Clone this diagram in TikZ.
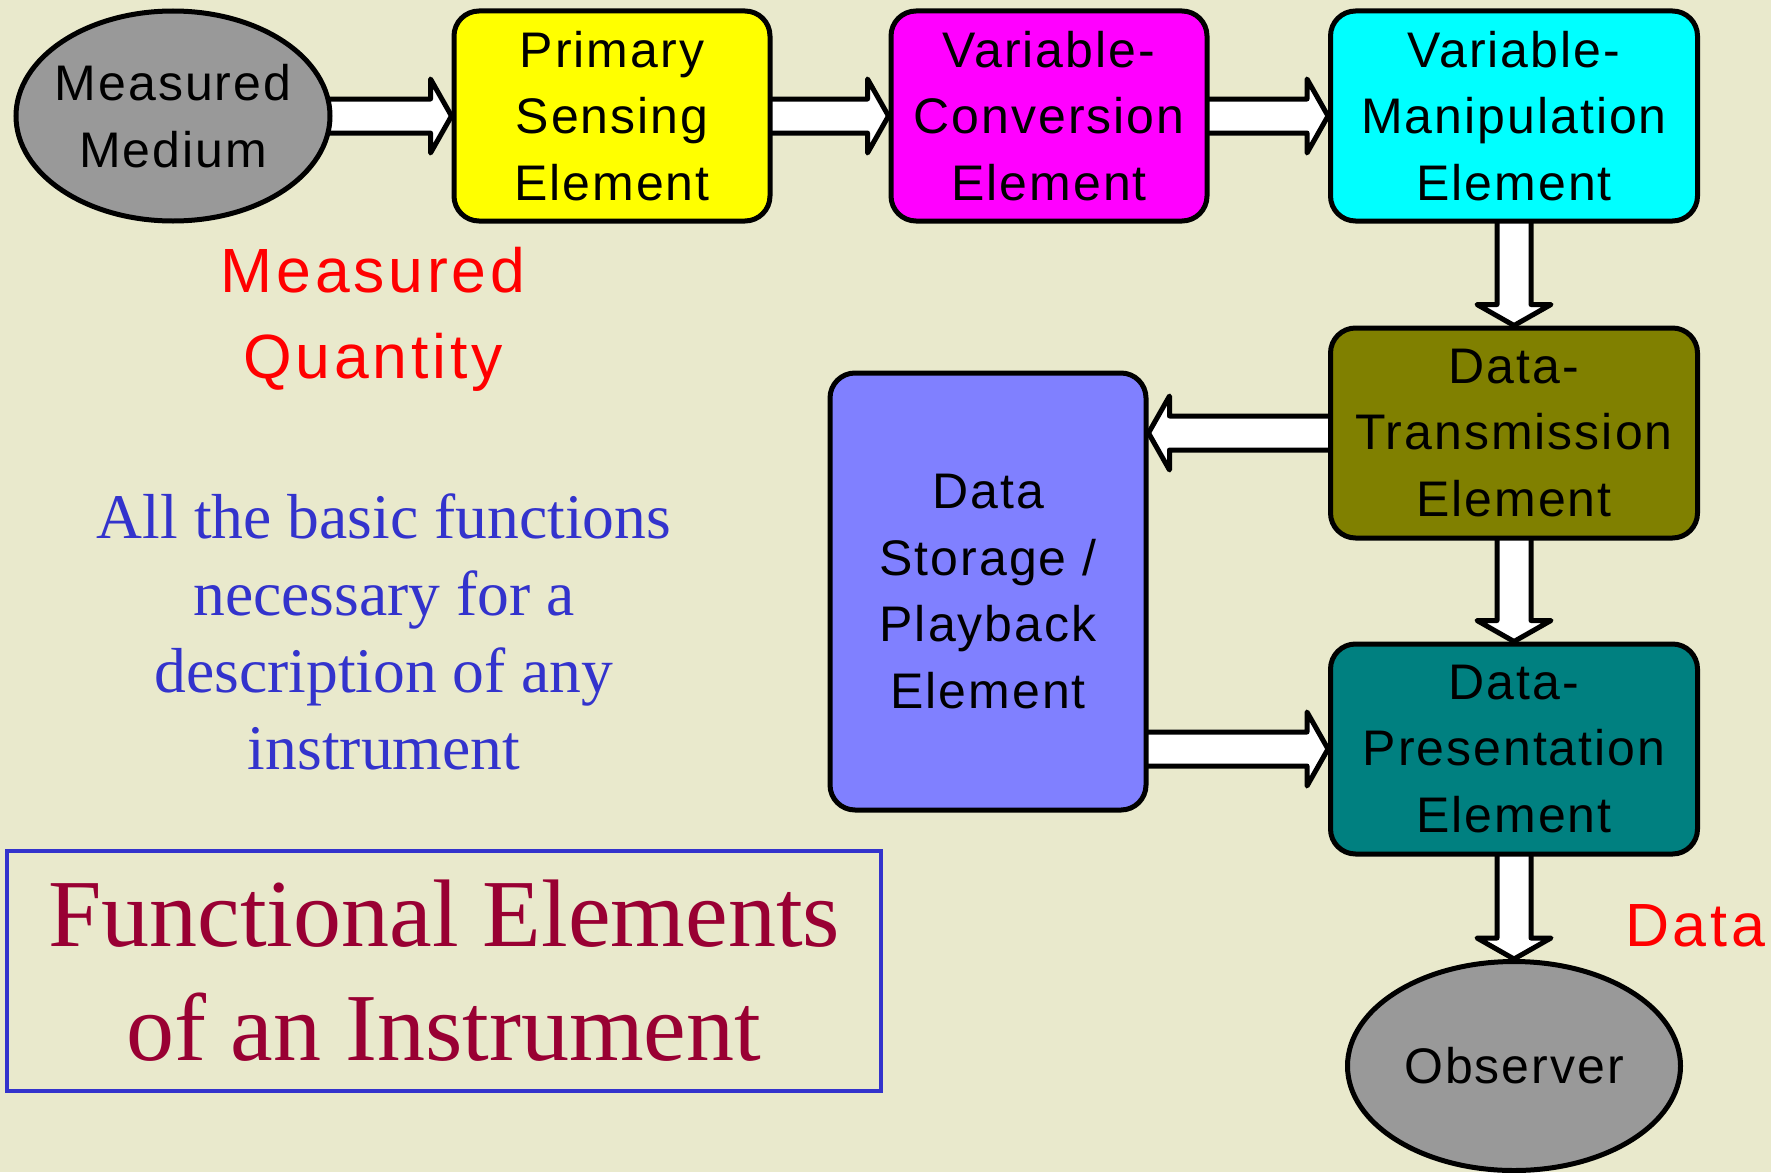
\documentclass[tikz,border=0pt]{standalone}
\usepackage{fontspec}
\setmainfont{Liberation Serif}
\newfontfamily\arialsp[LetterSpace=4]{Liberation Sans}
\newfontfamily\arialred[LetterSpace=6]{Liberation Sans}
\usetikzlibrary{shapes.geometric,calc}
\definecolor{bgc}{RGB}{233,233,204}
\definecolor{grayfill}{RGB}{153,153,153}
\definecolor{yelbox}{RGB}{255,255,0}
\definecolor{magbox}{RGB}{255,0,255}
\definecolor{cyanbox}{RGB}{0,255,255}
\definecolor{olivebox}{RGB}{128,128,0}
\definecolor{tealbox}{RGB}{0,128,128}
\definecolor{periw}{RGB}{128,128,255}
\definecolor{bluetxt}{RGB}{51,51,204}
\definecolor{titlered}{RGB}{153,0,51}
\definecolor{redtxt}{RGB}{255,0,0}
\pgfdeclarelayer{bgl}
\pgfdeclarelayer{arr}
\pgfsetlayers{bgl,arr,main}
\tikzset{
  box/.style={draw=black, line width=5pt, rounded corners=25pt, minimum width=316pt,
    minimum height=210pt, inner sep=0pt, align=center,
    font=\arialsp\fontsize{50}{66.6}\selectfont},
  ell/.style={ellipse, draw=black, line width=5pt, fill=grayfill, inner sep=0pt, align=center,
    font=\arialsp\fontsize{50}{66.6}\selectfont},
  blk/.style={draw=black, fill=white, line width=5pt, line join=round},
  blkR/.style={blk, to path={let \p1=(\tikztostart), \p2=(\tikztotarget) in
    (\x1,\y1+17pt) -- (\x2-21pt,\y1+17pt) -- (\x2-21pt,\y1+37pt) -- (\x2,\y1)
    -- (\x2-21pt,\y1-37pt) -- (\x2-21pt,\y1-17pt) -- (\x1,\y1-17pt) -- cycle}},
  blkL/.style={blk, to path={let \p1=(\tikztostart), \p2=(\tikztotarget) in
    (\x1,\y1+17pt) -- (\x2+21pt,\y1+17pt) -- (\x2+21pt,\y1+37pt) -- (\x2,\y1)
    -- (\x2+21pt,\y1-37pt) -- (\x2+21pt,\y1-17pt) -- (\x1,\y1-17pt) -- cycle}},
  blkD/.style={blk, to path={let \p1=(\tikztostart), \p2=(\tikztotarget) in
    (\x1-17pt,\y1) -- (\x1-17pt,\y2+21pt) -- (\x1-37pt,\y2+21pt) -- (\x1,\y2)
    -- (\x1+37pt,\y2+21pt) -- (\x1+17pt,\y2+21pt) -- (\x1+17pt,\y1) -- cycle}},
}
\begin{document}
\begin{tikzpicture}[x=1pt,y=-1pt]
\begin{pgfonlayer}{bgl}
\fill[bgc] (0,0) rectangle (1771,1172);
\end{pgfonlayer}
\useasboundingbox (0,0) rectangle (1771,1172);

% nodes
\node[ell, inner xsep=-12pt, minimum width=314pt, minimum height=210pt] (mm) at (173,116) {Measured\\Medium};
\node[box, fill=yelbox] (ps) at (612,116) {Primary\\Sensing\\Element};
\node[box, fill=magbox] (vc) at (1049,116) {Variable-\\Conversion\\Element};
\node[box, fill=cyanbox, minimum width=367pt] (vm) at (1514,116) {Variable-\\Manipulation\\Element};
\node[box, fill=olivebox, minimum width=367pt] (dt) at (1514,433) {Data-\\Transmission\\Element};
\node[box, fill=tealbox, minimum width=367pt] (dp) at (1514,749) {Data-\\Presentation\\Element};
\node[box, fill=periw, minimum height=437pt] (ds) at (988,591.5) {Data\\Storage /\\Playback\\Element};
\node[ell, minimum width=333pt, minimum height=209pt] (ob) at (1514,1066) {Observer};

% labels
\node[text=redtxt, align=center, font=\arialred\fontsize{62.5}{86}\selectfont] (mq) at (373,319) {Measured\\Quantity};
\node[text=redtxt, anchor=west, font=\arialred\fontsize{61}{72}\selectfont, inner sep=0pt] (dl) at (1625,926) {Data};
\node[text=bluetxt, align=center, font=\fontsize{63.6}{77}\selectfont] (bt) at (384,632)
  {All the basic functions\\necessary for a\\description of any\\instrument};
\node[draw=bluetxt, line width=4pt, minimum width=874pt, minimum height=240pt, inner sep=0pt,
  text=titlered, align=center, font=\fontsize{96}{114}\selectfont] (tt) at (444,971)
  {Functional Elements\\of an Instrument};

% arrows
\begin{pgfonlayer}{arr}
\draw[blkR] (mm.center) to (ps.west);
\draw[blkR] (ps.center) to (vc.west);
\draw[blkR] (vc.center) to (vm.west);
\draw[blkD] (vm.center) to (dt.north);
\draw[blkL] (dt.center) to (ds.east);
\draw[blkD] (dt.center) to (dp.north);
\draw[blkR] (ds.center |- dp.center) to (dp.west);
\draw[blkD] (dp.center) to (ob.north);
\end{pgfonlayer}
\end{tikzpicture}
\end{document}
